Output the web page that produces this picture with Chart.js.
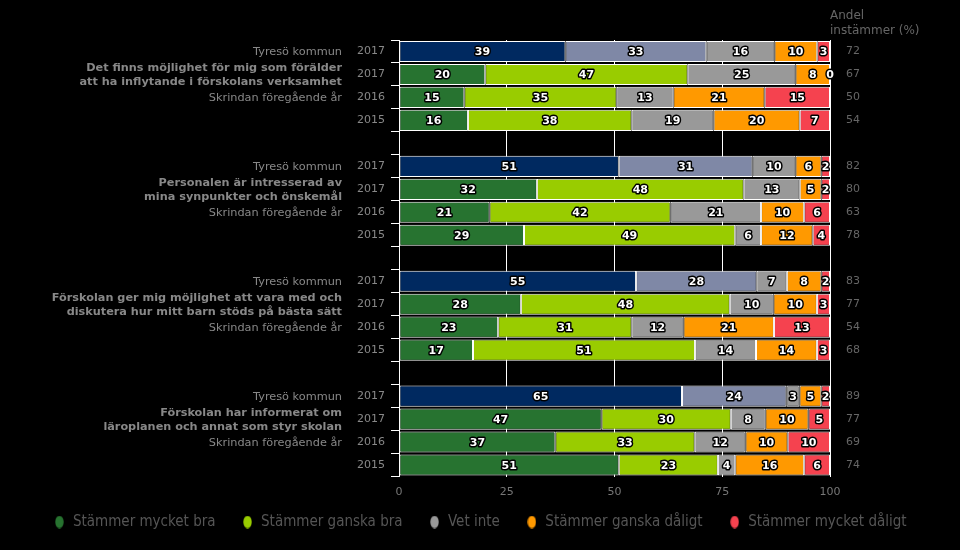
<!DOCTYPE html>
<html>
<head>
<meta charset="utf-8">
<script src="https://cdn.jsdelivr.net/npm/chart.js@4/dist/chart.umd.min.js"></script>
<style>
  html, body { margin: 0; padding: 0; background: #000; }
  #wrap { width: 960px; height: 550px; position: relative; }
</style>
</head>
<body>
<div id="wrap"><canvas id="c" width="960" height="550"></canvas></div>
<script>
// ---- Data (top row to bottom row, null = spacer row) ----
const yearLabels = ['2017','2017','2016','2015','', '2017','2017','2016','2015','', '2017','2017','2016','2015','', '2017','2017','2016','2015'];
const rowKinds   = ['kommun','school','prev','prev','gap', 'kommun','school','prev','prev','gap', 'kommun','school','prev','prev','gap', 'kommun','school','prev','prev'];
const questions = [
  ['Det finns möjlighet för mig som förälder', 'att ha inflytande i förskolans verksamhet'],
  ['Personalen är intresserad av', 'mina synpunkter och önskemål'],
  ['Förskolan ger mig möjlighet att vara med och', 'diskutera hur mitt barn stöds på bästa sätt'],
  ['Förskolan har informerat om', 'läroplanen och annat som styr skolan']
];
const kommunLabel = 'Tyresö kommun';
const prevLabel = 'Skrindan föregående år';
const seriesNames = ['Stämmer mycket bra', 'Stämmer ganska bra', 'Vet inte', 'Stämmer ganska dåligt', 'Stämmer mycket dåligt'];

const stammerMycketBra   = [39,20,15,16,null, 51,32,21,29,null, 55,28,23,17,null, 65,47,37,51];
const stammerGanskaBra   = [33,47,35,38,null, 31,48,42,49,null, 28,48,31,51,null, 24,30,33,23];
const vetInte            = [16,25,13,19,null, 10,13,21, 6,null,  7,10,12,14,null,  3, 8,12, 4];
const stammerGanskaDalig = [10, 8,21,20,null,  6, 5,10,12,null,  8,10,21,14,null,  5,10,10,16];
const stammerMycketDalig = [ 3, 0,15, 7,null,  2, 2, 6, 4,null,  2, 3,13, 3,null,  2, 5,10, 6];
const andelInstammer     = [72,67,50,54,null, 82,80,63,78,null, 83,77,54,68,null, 89,77,69,74];
const andelTitle = ['Andel', 'instämmer (%)'];

const xTicks = [0, 25, 50, 75, 100];

// ---- Styles ----
const mainColors   = ['#277330', '#99cc00', '#999999', '#ff9900', '#f5424f'];
const kommunColors = ['#002960', '#7f88a6', '#999999', '#ff9900', '#f5424f'];
const FONT = 'DejaVu Sans';

const seriesValues = [stammerMycketBra, stammerGanskaBra, vetInte, stammerGanskaDalig, stammerMycketDalig];
// each bar is shown as share of its row total (rounded labels may sum to 99-102)
const rowTotals = yearLabels.map((_, i) => seriesValues.reduce((s, arr) => s + (arr[i] || 0), 0));

const datasets = seriesValues.map((vals, si) => ({
  label: seriesNames[si],
  data: vals.map((v, i) => v == null ? null : v / rowTotals[i] * 100),
  rawValues: vals,
  backgroundColor: rowKinds.map(k => k === 'kommun' ? kommunColors[si] : mainColors[si]),
  borderColor: '#ffffff',
  borderWidth: 1,
  borderSkipped: false,
  barPercentage: 0.92,
  categoryPercentage: 1.0,
  yAxisID: 'y'
}));

function ellipseIcon(color) {
  const cv = document.createElement('canvas');
  cv.width = 9; cv.height = 13;
  const g = cv.getContext('2d');
  g.fillStyle = color;
  g.beginPath();
  g.ellipse(4.5, 6.5, 4.2, 6.2, 0, 0, Math.PI * 2);
  g.fill();
  return cv;
}
const legendIcons = mainColors.map(ellipseIcon);

// pull the legend a little closer to the axis labels
const legendShift = {
  id: 'legendShift',
  afterLayout(chart) {
    if (chart.legend) { chart.legend.top -= 10; chart.legend.bottom -= 10; }
  }
};

const labelsPlugin = {
  id: 'extraLabels',
  afterDatasetsDraw(chart) {
    const ctx = chart.ctx;
    const yScale = chart.scales.y;
    ctx.save();
    // values inside the bars
    ctx.font = 'bold 11px "' + FONT + '"';
    ctx.textAlign = 'center';
    ctx.textBaseline = 'middle';
    ctx.lineJoin = 'round';
    chart.data.datasets.forEach((ds, di) => {
      const meta = chart.getDatasetMeta(di);
      meta.data.forEach((el, i) => {
        const v = ds.rawValues[i];
        if (v == null) return;
        const x = (el.x + el.base) / 2;
        const y = el.y + 1;
        ctx.lineWidth = 3;
        ctx.strokeStyle = '#000';
        ctx.strokeText(String(v), x, y);
        ctx.fillStyle = '#fff';
        ctx.fillText(String(v), x, y);
      });
    });
    // header of right column
    ctx.font = '12px "' + FONT + '"';
    ctx.textAlign = 'left';
    ctx.textBaseline = 'alphabetic';
    ctx.fillStyle = '#666';
    ctx.fillText(andelTitle[0], chart.chartArea.right, 19);
    ctx.fillText(andelTitle[1], chart.chartArea.right, 34);
    // left group labels
    ctx.textAlign = 'right';
    ctx.textBaseline = 'middle';
    const lx = 342;
    let q = 0;
    rowKinds.forEach((k, i) => {
      const y = yScale.getPixelForValue(i) + 1;
      if (k === 'kommun') {
        ctx.font = '11.3px "' + FONT + '"';
        ctx.fillStyle = '#888';
        ctx.fillText(kommunLabel, lx, y);
      } else if (k === 'school') {
        ctx.font = 'bold 11.25px "' + FONT + '"';
        ctx.fillStyle = '#888';
        const lines = questions[q++];
        ctx.fillText(lines[0], lx, y - 7);
        ctx.fillText(lines[1], lx, y + 7);
      } else if (k === 'prev' && yearLabels[i] === '2016') {
        ctx.font = '11.3px "' + FONT + '"';
        ctx.fillStyle = '#888';
        ctx.fillText(prevLabel, lx, y);
      }
    });
    ctx.restore();
  }
};

new Chart(document.getElementById('c'), {
  type: 'bar',
  data: { labels: yearLabels, datasets: datasets },
  plugins: [labelsPlugin, legendShift],
  options: {
    indexAxis: 'y',
    responsive: false,
    animation: false,
    layout: { padding: { top: 40, right: 0, bottom: 0.5, left: 0 } },
    scales: {
      x: {
        stacked: true,
        min: 0,
        max: 100,
        afterBuildTicks(scale) { scale.ticks = xTicks.map(v => ({ value: v })); },
        afterFit(scale) { scale.height = 22; },
        grid: { color: '#ffffff', lineWidth: 1, drawTicks: false },
        border: { display: false },
        ticks: { color: '#777', font: { family: FONT, size: 11 }, padding: 9 }
      },
      y: {
        stacked: true,
        position: 'left',
        afterFit(scale) { scale.width = 399; },
        grid: { display: true, drawOnChartArea: false, color: '#ffffff', tickLength: 8, offset: true },
        border: { display: true, color: '#ffffff' },
        ticks: { color: '#888', font: { family: FONT, size: 11 }, padding: 6 }
      },
      y2: {
        type: 'category',
        position: 'right',
        labels: andelInstammer.map(v => v == null ? '' : String(v)),
        offset: true,
        afterFit(scale) { scale.width = 130; },
        grid: { display: false, drawTicks: false, drawOnChartArea: false },
        border: { display: false },
        ticks: { color: '#666', font: { family: FONT, size: 11 }, padding: 16 }
      }
    },
    plugins: {
      tooltip: { enabled: false },
      legend: {
        position: 'bottom',
        labels: {
          usePointStyle: true,
          boxWidth: 12,
          boxHeight: 12,
          padding: 26,
          color: '#555',
          font: { family: 'DejaVu Sans Condensed', size: 15 },
          generateLabels(chart) {
            return seriesNames.map((n, i) => ({
              text: n,
              fillStyle: mainColors[i],
              strokeStyle: mainColors[i],
              lineWidth: 0,
              pointStyle: legendIcons[i],
              fontColor: '#555',
              hidden: false,
              datasetIndex: i
            }));
          }
        }
      }
    }
  }
});
</script>
</body>
</html>
